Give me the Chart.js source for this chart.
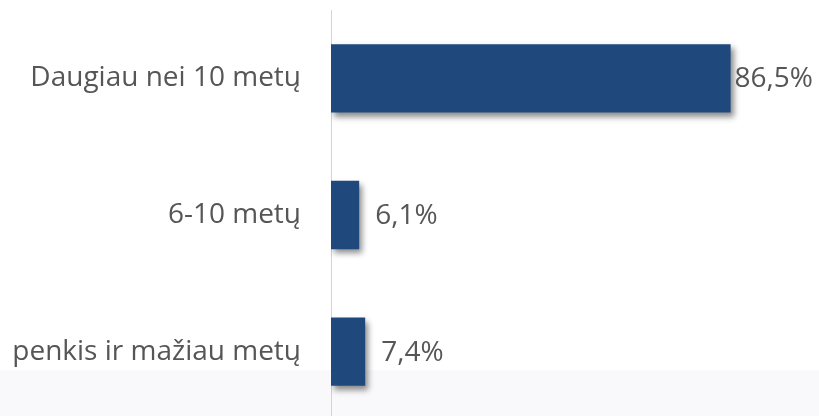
<!DOCTYPE html>
<html>
<head>
<meta charset="utf-8">
<script src="https://cdn.jsdelivr.net/npm/chart.js@4"></script>
<style>
    html, body { margin: 0; padding: 0; background: #ffffff; overflow: hidden; }
</style>
</head>
<body>
<canvas id="barChart" width="819" height="420"></canvas>
<script>
// Chart data
const categories = ['Daugiau nei 10 metų', '6-10 metų', 'penkis ir mažiau metų'];
const shares = [86.5, 6.1, 7.4];
const valueLabels = ['86,5%', '6,1%', '7,4%'];

const BAR_COLOR = '#1F487C';
const TEXT_COLOR = '#565656';
const FONT = "'Open Sans', sans-serif";
const FONT_SIZE = 28;

// faint band at the bottom of the slide background
const backgroundBand = {
    id: 'backgroundBand',
    beforeDraw(chart) {
        const ctx = chart.ctx;
        ctx.save();
        ctx.fillStyle = '#f9f9fb';
        ctx.fillRect(0, 370, chart.width, chart.height - 370);
        ctx.restore();
    }
};

// drop shadow under the bars
const barShadow = {
    id: 'barShadow',
    beforeDatasetsDraw(chart) {
        const ctx = chart.ctx;
        ctx.save();
        ctx.shadowColor = 'rgba(0, 0, 0, 0.45)';
        ctx.shadowBlur = 6;
        ctx.shadowOffsetX = 3;
        ctx.shadowOffsetY = 4;
    },
    afterDatasetsDraw(chart) {
        chart.ctx.restore();
    }
};

// value labels at the end of each bar (kept inside the canvas)
const valueLabelPlugin = {
    id: 'valueLabels',
    afterDatasetsDraw(chart) {
        const ctx = chart.ctx;
        const meta = chart.getDatasetMeta(0);
        ctx.save();
        ctx.shadowColor = 'transparent';
        ctx.font = FONT_SIZE + 'px ' + FONT;
        ctx.fillStyle = TEXT_COLOR;
        ctx.textAlign = 'left';
        ctx.textBaseline = 'middle';
        meta.data.forEach((bar, i) => {
            const w = ctx.measureText(valueLabels[i]).width;
            const x = Math.min(bar.x + 16, chart.width - 6 - w);
            ctx.fillText(valueLabels[i], x, bar.y + 1);
        });
        ctx.restore();
    }
};

const ctxBar = document.getElementById('barChart').getContext('2d');
const barChart = new Chart(ctxBar, {
    type: 'bar',
    data: {
        labels: categories,
        datasets: [{
            data: shares,
            backgroundColor: BAR_COLOR,
            borderWidth: 0,
            barPercentage: 1,
            categoryPercentage: 0.5
        }]
    },
    options: {
        indexAxis: 'y',
        responsive: false,
        animation: false,
        layout: { padding: { top: 10, right: 26, bottom: 0, left: 0 } },
        plugins: {
            legend: { display: false },
            tooltip: { enabled: false }
        },
        scales: {
            x: {
                display: false,
                min: 0,
                max: 100
            },
            y: {
                afterFit(scale) {
                    scale.width = 331;
                    scale.paddingTop = 0;
                    scale.paddingBottom = 0;
                },
                grid: { display: false, drawTicks: false },
                border: { display: true, color: '#d4d4d4', width: 1 },
                ticks: {
                    color: TEXT_COLOR,
                    padding: 30,
                    font: { family: FONT, size: FONT_SIZE }
                }
            }
        }
    },
    plugins: [backgroundBand, barShadow, valueLabelPlugin]
});
</script>
</body>
</html>
